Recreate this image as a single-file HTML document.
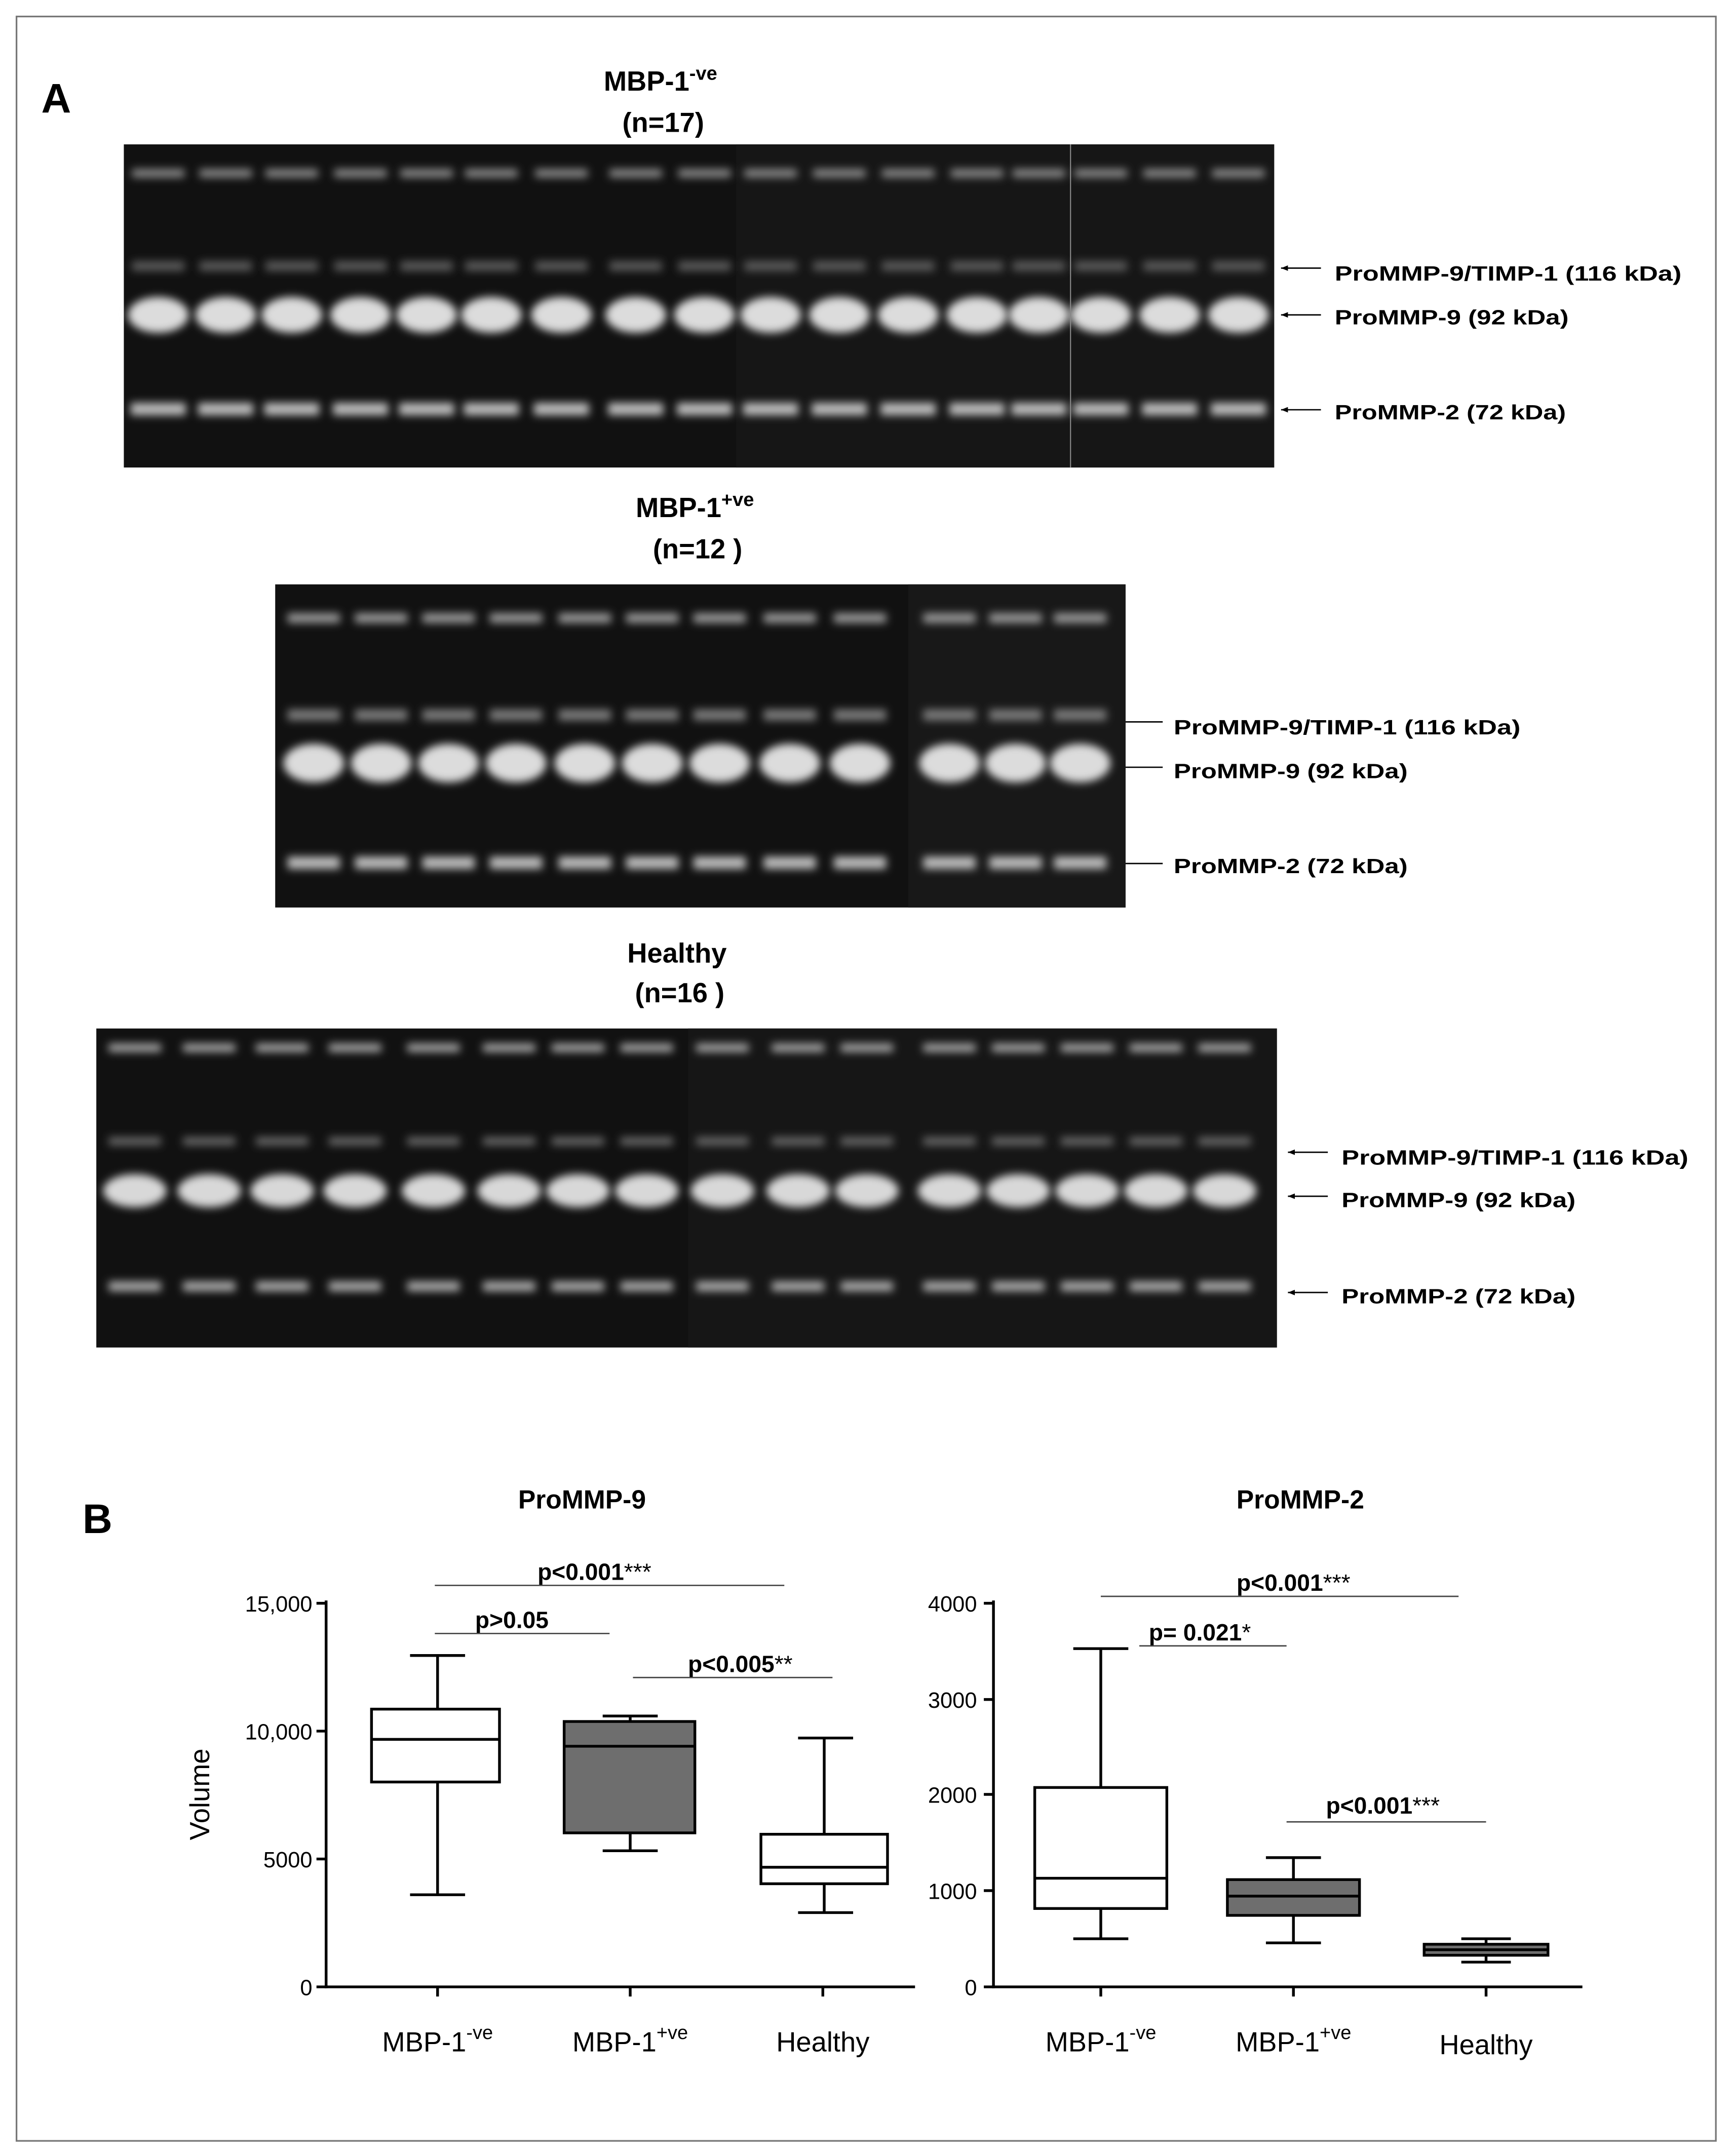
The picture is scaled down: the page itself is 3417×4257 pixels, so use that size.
<!DOCTYPE html>
<html><head><meta charset="utf-8"><style>html,body{margin:0;padding:0;background:#fff}svg{display:block}</style></head>
<body>
<svg width="3417" height="4257" viewBox="0 0 1258 1568" preserveAspectRatio="none" xmlns="http://www.w3.org/2000/svg" font-family="Liberation Sans, sans-serif">
<defs>
<filter id="b" x="-50%" y="-200%" width="200%" height="500%"><feGaussianBlur stdDeviation="3"/></filter>
<marker id="ah" viewBox="0 0 10 10" refX="0" refY="5" markerWidth="5" markerHeight="5" orient="auto"><path d="M10,1 L0,5 L10,9 z" fill="#000"/></marker>
<g id="L1" filter="url(#b)">
<rect x="-19" y="123" width="38" height="6" fill="#8a8a8a"/>
<rect x="-19" y="190" width="38" height="7" fill="#5a5a5a"/>
<ellipse cx="0" cy="229" rx="22" ry="13" fill="#dcdcdc"/>
<rect x="-20" y="293" width="40" height="9" fill="#bbb"/>
</g>
<g id="L2" filter="url(#b)">
<rect x="-19" y="446" width="38" height="7" fill="#999"/>
<rect x="-19" y="516" width="38" height="8" fill="#7a7a7a"/>
<ellipse cx="0" cy="555" rx="22" ry="14" fill="#dcdcdc"/>
<rect x="-19" y="623" width="38" height="9" fill="#bbb"/>
</g>
<g id="L3" filter="url(#b)">
<rect x="-19" y="759" width="38" height="6" fill="#a5a5a5"/>
<rect x="-19" y="827" width="38" height="6" fill="#666"/>
<ellipse cx="0" cy="866" rx="23" ry="12" fill="#d8d8d8"/>
<rect x="-19" y="932" width="38" height="7" fill="#aaa"/>
</g>
</defs>
<rect x="12" y="12" width="1235" height="1545" fill="none" stroke="#777" stroke-width="1.2"/>
<text x="30" y="82" font-size="30" font-weight="bold">A</text>
<text x="60" y="1115" font-size="30" font-weight="bold">B</text>

<!-- Gel 1 -->
<text x="480" y="66" font-size="20" font-weight="bold" text-anchor="middle">MBP-1<tspan font-size="14" dy="-8">-ve</tspan></text>
<text x="482" y="96" font-size="20" font-weight="bold" text-anchor="middle">(n=17)</text>
<rect x="90" y="105" width="836" height="235" fill="#111"/>
<rect x="535" y="105" width="391" height="235" fill="#161616"/>
<use href="#L1" x="115"/><use href="#L1" x="164"/><use href="#L1" x="212"/><use href="#L1" x="262"/><use href="#L1" x="310"/><use href="#L1" x="357"/><use href="#L1" x="408"/><use href="#L1" x="462"/><use href="#L1" x="512"/><use href="#L1" x="560"/><use href="#L1" x="610"/><use href="#L1" x="660"/><use href="#L1" x="710"/><use href="#L1" x="755"/><use href="#L1" x="800"/><use href="#L1" x="850"/><use href="#L1" x="900"/>
<line x1="778" y1="105" x2="778" y2="340" stroke="#888" stroke-width="0.8"/>
<g stroke="#000" stroke-width="1" marker-start="url(#ah)"><line x1="931" y1="195" x2="960" y2="195"/><line x1="931" y1="229" x2="960" y2="229"/><line x1="931" y1="298" x2="960" y2="298"/></g>
<g font-size="15" font-weight="bold" lengthAdjust="spacingAndGlyphs"><text x="970" y="204" textLength="252" lengthAdjust="spacingAndGlyphs">ProMMP-9/TIMP-1 (116 kDa)</text><text x="970" y="236" textLength="170" lengthAdjust="spacingAndGlyphs">ProMMP-9 (92 kDa)</text><text x="970" y="305" textLength="168" lengthAdjust="spacingAndGlyphs">ProMMP-2 (72 kDa)</text></g>

<!-- Gel 2 -->
<text x="505" y="376" font-size="20" font-weight="bold" text-anchor="middle">MBP-1<tspan font-size="14" dy="-8">+ve</tspan></text>
<text x="507" y="406" font-size="20" font-weight="bold" text-anchor="middle">(n=12 )</text>
<rect x="200" y="425" width="618" height="235" fill="#111"/>
<rect x="660" y="425" width="158" height="235" fill="#181818"/>
<use href="#L2" x="228"/><use href="#L2" x="277"/><use href="#L2" x="326"/><use href="#L2" x="375"/><use href="#L2" x="425"/><use href="#L2" x="474"/><use href="#L2" x="523"/><use href="#L2" x="574"/><use href="#L2" x="625"/><use href="#L2" x="690"/><use href="#L2" x="738"/><use href="#L2" x="785"/>
<g stroke="#000" stroke-width="1"><line x1="818" y1="525" x2="845" y2="525"/><line x1="818" y1="558" x2="845" y2="558"/><line x1="818" y1="628" x2="845" y2="628"/></g>
<g font-size="15" font-weight="bold"><text x="853" y="534" textLength="252" lengthAdjust="spacingAndGlyphs">ProMMP-9/TIMP-1 (116 kDa)</text><text x="853" y="566" textLength="170" lengthAdjust="spacingAndGlyphs">ProMMP-9 (92 kDa)</text><text x="853" y="635" textLength="170" lengthAdjust="spacingAndGlyphs">ProMMP-2 (72 kDa)</text></g>

<!-- Gel 3 -->
<text x="492" y="700" font-size="20" font-weight="bold" text-anchor="middle">Healthy</text>
<text x="494" y="729" font-size="20" font-weight="bold" text-anchor="middle">(n=16 )</text>
<rect x="70" y="748" width="858" height="232" fill="#111"/>
<rect x="500" y="748" width="428" height="232" fill="#161616"/>
<use href="#L3" x="98"/><use href="#L3" x="152"/><use href="#L3" x="205"/><use href="#L3" x="258"/><use href="#L3" x="315"/><use href="#L3" x="370"/><use href="#L3" x="420"/><use href="#L3" x="470"/><use href="#L3" x="525"/><use href="#L3" x="580"/><use href="#L3" x="630"/><use href="#L3" x="690"/><use href="#L3" x="740"/><use href="#L3" x="790"/><use href="#L3" x="840"/><use href="#L3" x="890"/>
<g stroke="#000" stroke-width="1" marker-start="url(#ah)"><line x1="936" y1="838" x2="965" y2="838"/><line x1="936" y1="870" x2="965" y2="870"/><line x1="936" y1="940" x2="965" y2="940"/></g>
<g font-size="15" font-weight="bold"><text x="975" y="847" textLength="252" lengthAdjust="spacingAndGlyphs">ProMMP-9/TIMP-1 (116 kDa)</text><text x="975" y="878" textLength="170" lengthAdjust="spacingAndGlyphs">ProMMP-9 (92 kDa)</text><text x="975" y="948" textLength="170" lengthAdjust="spacingAndGlyphs">ProMMP-2 (72 kDa)</text></g>

<!-- Chart 1 -->
<text x="423" y="1097" font-size="19" font-weight="bold" text-anchor="middle">ProMMP-9</text>
<text transform="translate(152,1305) rotate(-90)" font-size="20" text-anchor="middle">Volume</text>
<g stroke="#000" stroke-width="2" fill="none">
<line x1="237" y1="1164" x2="237" y2="1446"/><line x1="236" y1="1445" x2="665" y2="1445"/>
<line x1="230" y1="1166" x2="237" y2="1166"/><line x1="230" y1="1259" x2="237" y2="1259"/><line x1="230" y1="1352" x2="237" y2="1352"/><line x1="230" y1="1445" x2="237" y2="1445"/>
<line x1="318" y1="1445" x2="318" y2="1452"/><line x1="458" y1="1445" x2="458" y2="1452"/><line x1="598" y1="1445" x2="598" y2="1452"/>
<line x1="318" y1="1204" x2="318" y2="1243"/><line x1="318" y1="1296" x2="318" y2="1378"/><line x1="298" y1="1204" x2="338" y2="1204"/><line x1="298" y1="1378" x2="338" y2="1378"/>
<rect x="270" y="1243" width="93" height="53" fill="#fff"/><line x1="270" y1="1265" x2="363" y2="1265"/>
<line x1="458" y1="1248" x2="458" y2="1252"/><line x1="458" y1="1333" x2="458" y2="1346"/><line x1="438" y1="1248" x2="478" y2="1248"/><line x1="438" y1="1346" x2="478" y2="1346"/>
<rect x="410" y="1252" width="95" height="81" fill="#6e6e6e"/><line x1="410" y1="1270" x2="505" y2="1270"/>
<line x1="599" y1="1264" x2="599" y2="1334"/><line x1="599" y1="1370" x2="599" y2="1391"/><line x1="580" y1="1264" x2="620" y2="1264"/><line x1="580" y1="1391" x2="620" y2="1391"/>
<rect x="553" y="1334" width="92" height="36" fill="#fff"/><line x1="553" y1="1358" x2="645" y2="1358"/>
</g>
<g stroke="#444" stroke-width="1"><line x1="316" y1="1153" x2="570" y2="1153"/><line x1="316" y1="1188" x2="443" y2="1188"/><line x1="460" y1="1220" x2="605" y2="1220"/></g>
<g font-size="16" text-anchor="end"><text x="227" y="1172">15,000</text><text x="227" y="1265">10,000</text><text x="227" y="1358">5000</text><text x="227" y="1451">0</text></g>
<g font-size="17" font-weight="bold" text-anchor="middle"><text x="432" y="1149">p&lt;0.001<tspan font-weight="normal">***</tspan></text><text x="372" y="1184">p&gt;0.05</text><text x="538" y="1216">p&lt;0.005<tspan font-weight="normal">**</tspan></text></g>
<g font-size="20" text-anchor="middle"><text x="318" y="1492">MBP-1<tspan font-size="14" dy="-9">-ve</tspan></text><text x="458" y="1492">MBP-1<tspan font-size="14" dy="-9">+ve</tspan></text><text x="598" y="1492">Healthy</text></g>

<!-- Chart 2 -->
<text x="945" y="1097" font-size="19" font-weight="bold" text-anchor="middle">ProMMP-2</text>
<g stroke="#000" stroke-width="2" fill="none">
<line x1="722" y1="1164" x2="722" y2="1446"/><line x1="721" y1="1445" x2="1150" y2="1445"/>
<line x1="715" y1="1166" x2="722" y2="1166"/><line x1="715" y1="1236" x2="722" y2="1236"/><line x1="715" y1="1305" x2="722" y2="1305"/><line x1="715" y1="1375" x2="722" y2="1375"/><line x1="715" y1="1445" x2="722" y2="1445"/>
<line x1="800" y1="1445" x2="800" y2="1452"/><line x1="940" y1="1445" x2="940" y2="1452"/><line x1="1080" y1="1445" x2="1080" y2="1452"/>
<line x1="800" y1="1199" x2="800" y2="1300"/><line x1="800" y1="1388" x2="800" y2="1410"/><line x1="780" y1="1199" x2="820" y2="1199"/><line x1="780" y1="1410" x2="820" y2="1410"/>
<rect x="752" y="1300" width="96" height="88" fill="#fff"/><line x1="752" y1="1366" x2="848" y2="1366"/>
<line x1="940" y1="1351" x2="940" y2="1367"/><line x1="940" y1="1393" x2="940" y2="1413"/><line x1="920" y1="1351" x2="960" y2="1351"/><line x1="920" y1="1413" x2="960" y2="1413"/>
<rect x="892" y="1367" width="96" height="26" fill="#6e6e6e"/><line x1="892" y1="1379" x2="988" y2="1379"/>
<line x1="1080" y1="1410" x2="1080" y2="1414"/><line x1="1080" y1="1422" x2="1080" y2="1427"/><line x1="1062" y1="1410" x2="1098" y2="1410"/><line x1="1062" y1="1427" x2="1098" y2="1427"/>
<rect x="1035" y="1414" width="90" height="8" fill="#6e6e6e"/><line x1="1035" y1="1418" x2="1125" y2="1418"/>
</g>
<g stroke="#444" stroke-width="1"><line x1="800" y1="1161" x2="1060" y2="1161"/><line x1="828" y1="1197" x2="935" y2="1197"/><line x1="935" y1="1325" x2="1080" y2="1325"/></g>
<g font-size="16" text-anchor="end"><text x="710" y="1172">4000</text><text x="710" y="1242">3000</text><text x="710" y="1311">2000</text><text x="710" y="1381">1000</text><text x="710" y="1451">0</text></g>
<g font-size="17" font-weight="bold" text-anchor="middle"><text x="940" y="1157">p&lt;0.001<tspan font-weight="normal">***</tspan></text><text x="872" y="1193">p= 0.021<tspan font-weight="normal">*</tspan></text><text x="1005" y="1319">p&lt;0.001<tspan font-weight="normal">***</tspan></text></g>
<g font-size="20" text-anchor="middle"><text x="800" y="1492">MBP-1<tspan font-size="14" dy="-9">-ve</tspan></text><text x="940" y="1492">MBP-1<tspan font-size="14" dy="-9">+ve</tspan></text><text x="1080" y="1494">Healthy</text></g>
</svg>
</body></html>
